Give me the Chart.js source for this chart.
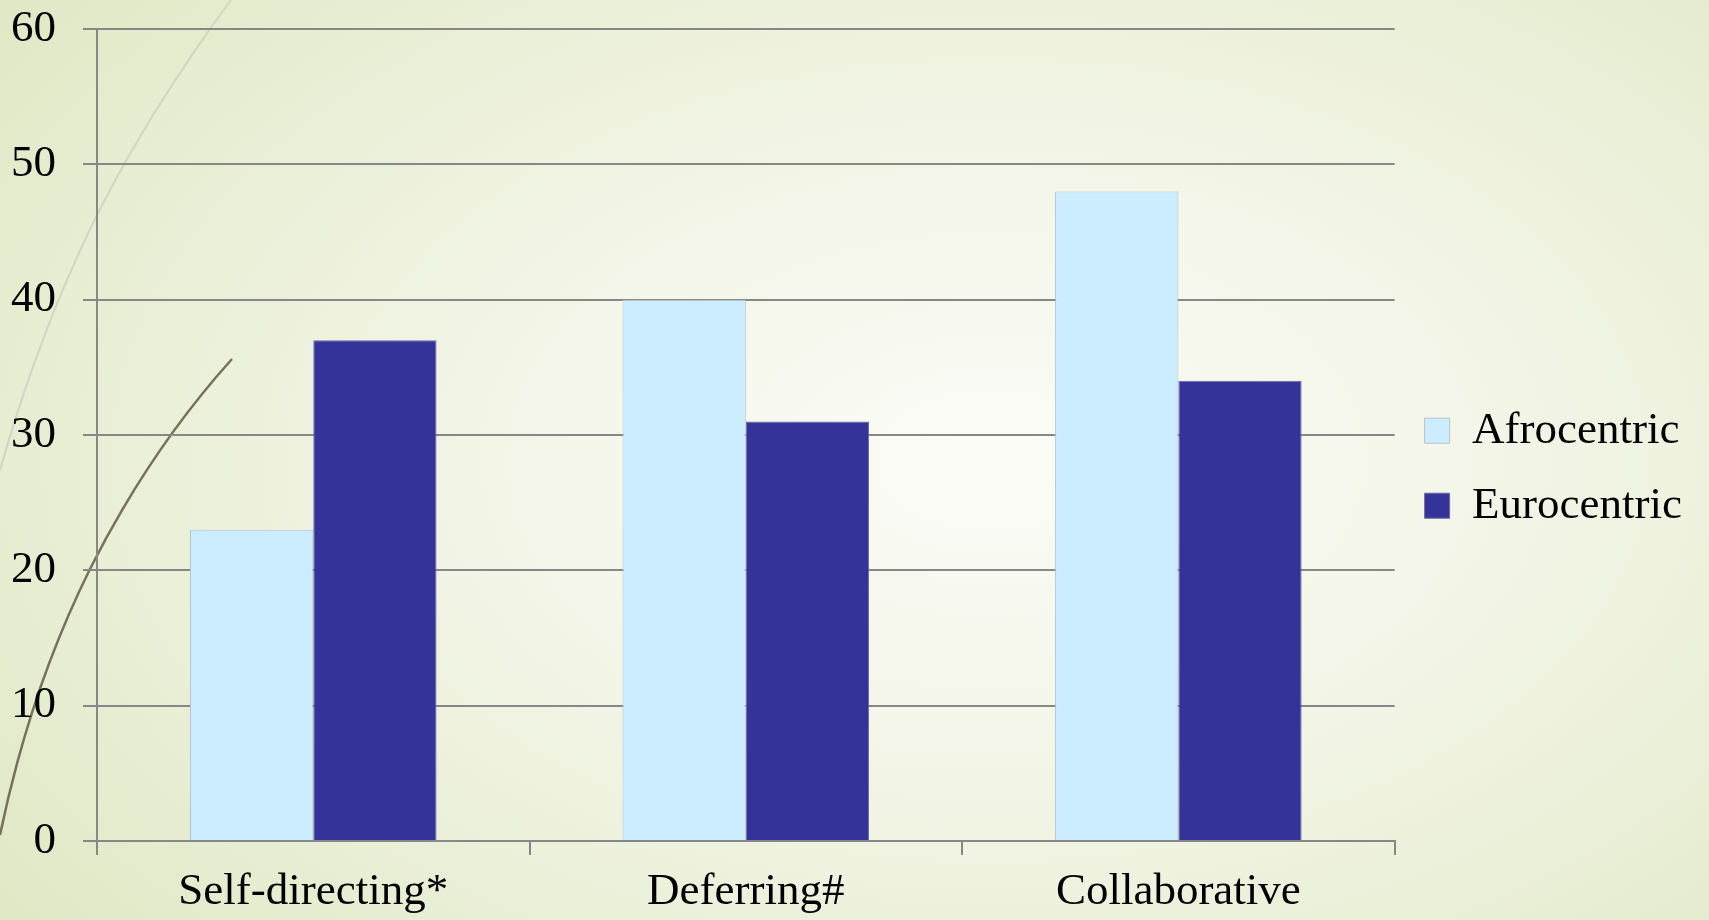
<!DOCTYPE html>
<html>
<head>
<meta charset="utf-8">
<script src="https://cdn.jsdelivr.net/npm/chart.js@4.4.0/dist/chart.umd.min.js"></script>
<style>
  html, body { margin: 0; padding: 0; }
  body {
    width: 1709px; height: 920px; overflow: hidden;
    background: radial-gradient(ellipse 75% 85% at 58% 50%, #fbfcf7 0%, #f1f4e4 45%, #e4ebcc 85%, #dfe7c4 100%);
    position: relative;
  }
  #deco { position: absolute; left: 0; top: 0; }
  #wrap { position: absolute; left: 0; top: 0; width: 1709px; height: 920px; }
</style>
</head>
<body>
<!-- slide decoration curves -->
<svg id="deco" width="1709" height="920">
  <path d="M231,0 Q150,110 97,215 Q40,330 0,470" fill="none" stroke="#d2d4c4" stroke-width="2"/>
  <path d="M232,359 Q150,450 90,569 Q30,690 0,835" fill="none" stroke="#77705a" stroke-width="2.5"/>
</svg>
<div id="wrap"><canvas id="grafica" width="1709" height="920"></canvas></div>
<script>
  // datos de la grafica
  const categorias = ['Self-directing*', 'Deferring#', 'Collaborative'];
  const afrocentric = [23, 40, 48];
  const eurocentric = [37, 31, 34];
  const ticksY = [0, 10, 20, 30, 40, 50, 60];

  const fuente = 'Liberation Serif';
  const gris = '#878787';

  const ctx = document.getElementById('grafica').getContext('2d');

  const data = {
    labels: categorias,
    datasets: [{
      label: 'Afrocentric',
      data: afrocentric,
      backgroundColor: '#ccecff',
      borderColor: '#b4c4cc',
      borderWidth: 1
    }, {
      label: 'Eurocentric',
      data: eurocentric,
      backgroundColor: '#333399',
      borderColor: '#6a6aa4',
      borderWidth: 1
    }]
  };

  const config = {
    type: 'bar',
    data: data,
    options: {
      responsive: false,
      animation: false,
      categoryPercentage: 0.57,
      barPercentage: 1.0,
      layout: { padding: { top: 2, left: 11, right: 17, bottom: 0 } },
      plugins: {
        tooltip: { enabled: false },
        legend: {
          position: 'right',
          title: { display: true, text: ' ', padding: 0, font: { size: 12 } },
          labels: {
            color: '#000',
            font: { family: fuente, size: 45 },
            boxWidth: 25,
            boxHeight: 25,
            padding: 30
          }
        }
      },
      scales: {
        x: {
          grid: { display: true, offset: true, drawOnChartArea: false, color: gris, lineWidth: 2, tickLength: 14 },
          border: { color: gris, width: 2 },
          ticks: { color: '#000', font: { family: fuente, size: 45 }, padding: 10, maxRotation: 0 },
          afterFit: (axis) => {
            axis.height = 79;
            axis.paddingLeft = 0;
            axis.paddingRight = 0;
          }
        },
        y: {
          min: 0,
          max: 60,
          afterBuildTicks: (axis) => { axis.ticks = ticksY.map(v => ({ value: v })); },
          grid: { color: gris, lineWidth: 2, tickLength: 14 },
          border: { color: gris, width: 2 },
          ticks: { color: '#000', font: { family: fuente, size: 45 }, padding: 27 },
          afterFit: (axis) => {
            axis.width = 86;
            axis.paddingTop = 29;
            axis.paddingBottom = 0;
          }
        }
      }
    }
  };

  const miGrafica = new Chart(ctx, config);
</script>
</body>
</html>
